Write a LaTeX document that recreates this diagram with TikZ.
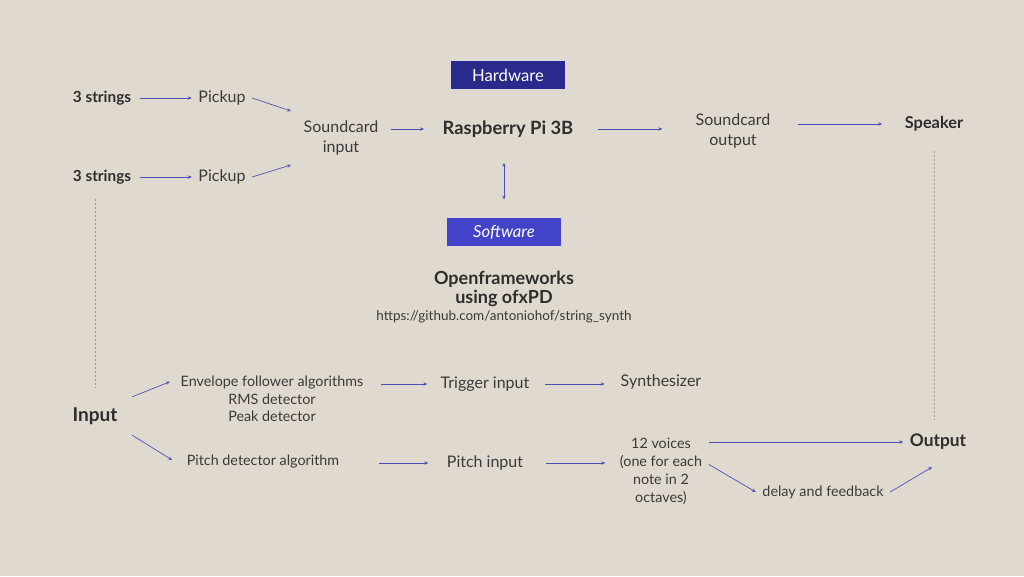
\documentclass[tikz,border=0pt]{standalone}
\usepackage{fontspec}
\setmainfont{Lato}
\usetikzlibrary{arrows.meta}
\definecolor{bg}{HTML}{E0D9CF}
\definecolor{arrc}{HTML}{4A4FB5}
\definecolor{hw}{HTML}{2A2A8C}
\definecolor{sw}{HTML}{4343C9}
\definecolor{txt}{HTML}{3A3A3A}
\definecolor{dk}{HTML}{2E2E2E}
\tikzset{
 lbl/.style={font=\fontsize{12}{15}\selectfont, text=txt, align=center, inner sep=2pt, outer sep=3pt, yshift=-1.5pt},
 blbl/.style={lbl, text=dk, font=\fontsize{11.5}{15}\selectfont\bfseries},
 big/.style={lbl, text=dk, font=\fontsize{13.5}{14.3}\selectfont\bfseries},
 arr/.style={draw=arrc, line width=0.5pt, -{Stealth[length=3pt,width=2.5pt]}},
 darr/.style={arr, {Stealth[length=3pt,width=2.5pt]}-{Stealth[length=3pt,width=2.5pt]}},
 dots/.style={draw=gray!75, line width=0.5pt, dash pattern=on 1.5pt off 1.5pt},
 tagbox/.style={minimum width=86pt, minimum height=22pt, inner sep=0pt, text=white, draw=white!85!black, line width=0.6pt}
}
\begin{document}
\begin{tikzpicture}[x=0.75pt,y=-0.75pt]
\fill[bg] (0,0) rectangle (1024,576);
\useasboundingbox (0,0) rectangle (1024,576);

% top row
\node[blbl] (s1) at (102,96) {3 strings};
\node[blbl] (s2) at (102,175) {3 strings};
\node[lbl] (p1) at (222,96) {Pickup};
\node[lbl] (p2) at (222,175) {Pickup};
\node[lbl] (sci) at (341,136) {Soundcard\\input};
\node[big, font=\fontsize{13.75}{15}\selectfont\bfseries] (rpi) at (508,127) {Raspberry Pi 3B};
\node[lbl] (sco) at (733,129) {Soundcard\\output};
\node[blbl, font=\fontsize{12.25}{15}\selectfont\bfseries] (spk) at (934,122) {Speaker};

\node[tagbox, fill=hw, font=\fontsize{12.5}{14}\selectfont] (hwb) at (508,75) {Hardware};
\node[tagbox, fill=sw, font=\fontsize{12.5}{14}\selectfont\itshape] (swb) at (504,232) {Software};

\node[big] (ofx) at (504,287) {Openframeworks\\using ofxPD};
\node[lbl, font=\fontsize{10.1}{12}\selectfont] (url) at (504,315) {https://github.com/antoniohof/string\_synth};

% bottom
\node[big, font=\fontsize{14.3}{15}\selectfont\bfseries] (inp) at (95,414) {Input};
\node[lbl, font=\fontsize{10.75}{13}\selectfont] (env) at (272,397) {Envelope follower algorithms\\RMS detector\\Peak detector};
\node[lbl, font=\fontsize{10.75}{13}\selectfont] (pd) at (263,460) {Pitch detector algorithm};
\node[lbl] (trig) at (485,382) {Trigger input};
\node[lbl] (pin) at (485,461) {Pitch input};
\node[lbl] (syn) at (661,380) {Synthesizer};
\node[lbl, font=\fontsize{10.75}{13.5}\selectfont] (voc) at (661,469) {12 voices\\(one for each\\note in 2\\octaves)};
\node[lbl, font=\fontsize{10.75}{13}\selectfont] (dly) at (823,490) {delay and feedback};
\node[blbl, font=\fontsize{13}{15}\selectfont\bfseries] (out) at (938,440) {Output};

% connectors
\draw[arr, shorten <=2pt] (s1) -- (p1);
\draw[arr, shorten <=2pt] (s2) -- (p2);
\draw[arr] (p1.east) -- ([shift={(-6,-3)}]sci.north west);
\draw[arr] (p2.east) -- ([shift={(-6,3)}]sci.south west);
\draw[arr, shorten <=4.5pt, shorten >=9pt] (sci.east |- rpi) -- (rpi);
\draw[arr, shorten <=13.5pt, shorten >=20pt] (rpi) -- (sco.west |- rpi);
\draw[arr, shorten <=16pt, shorten >=12pt] (sco.east |- spk) -- (spk);
\draw[darr] ([yshift=-14pt]rpi.south -| swb.north) -- ([yshift=13pt]swb.north);

\draw[arr] ([shift={(8,-4)}]inp.north east) -- ([shift={(-4,12)}]env.north west);
\draw[arr] ([shift={(8,4)}]inp.south east) -- ([shift={(-8,-2)}]pd.west);
\draw[arr, shorten <=8pt, shorten >=5pt] (env.east |- trig) -- (trig);
\draw[arr, shorten <=7pt, shorten >=7pt] (trig) -- (syn.west |- trig);
\draw[arr, shorten <=25pt, shorten >=9pt] (pd.east |- pin) -- (pin);
\draw[arr, shorten <=12pt, shorten >=6pt] (pin) -- (voc.west |- pin);
\draw[arr] (voc.east |- out) -- (out);
\draw[arr] ([yshift=5pt]voc.east) -- (dly.west);
\draw[arr] (dly.east) -- ([shift={(-4.5pt,-8pt)}]out.south);

\draw[dots] ([yshift=-6pt]s2.south -| inp.north) -- ([yshift=10pt]inp.north);
\draw[dots] ([yshift=-10pt]spk.south) -- ([yshift=6pt]spk.south |- out.north);
\end{tikzpicture}
\end{document}
